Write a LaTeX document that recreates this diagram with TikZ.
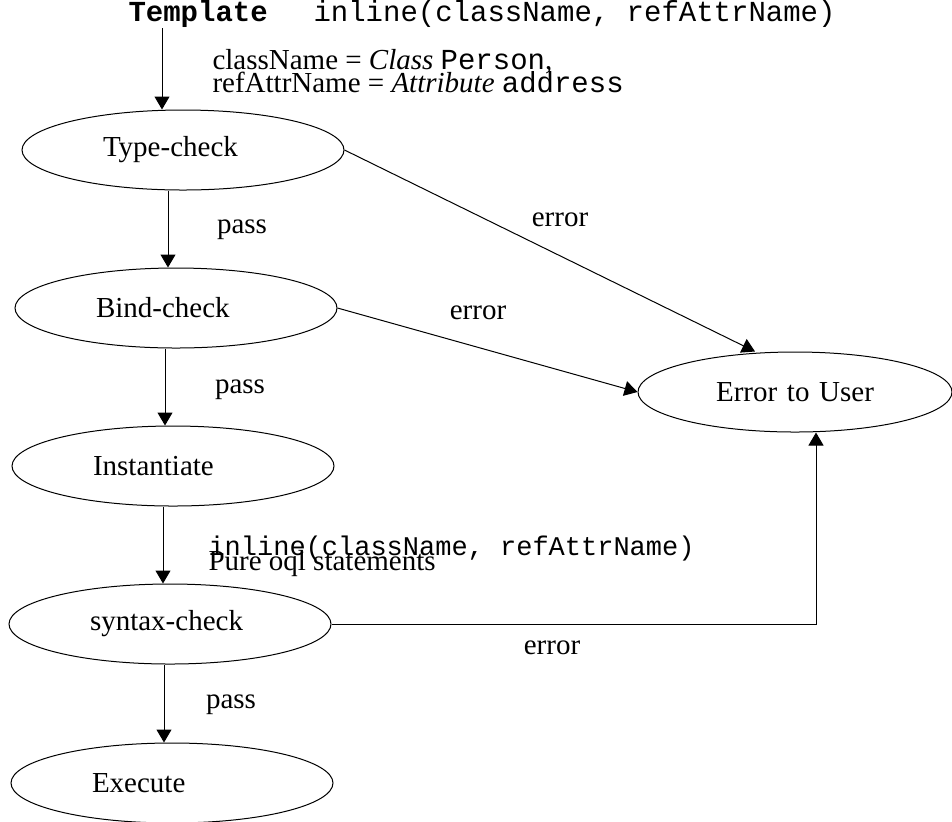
\documentclass[tikz,border=0pt]{standalone}
\usepackage{fontspec}
\setmainfont{Liberation Serif}
\setmonofont{Liberation Mono}
\usetikzlibrary{shapes.geometric,arrows.meta}

\begin{document}
\begin{tikzpicture}[x=0.5pt,y=-0.5pt,line width=0.5pt,
  font=\fontsize{14.5}{17}\selectfont,
  stage/.style={ellipse, draw, minimum width=161pt, minimum height=40pt, inner sep=0pt, text width=80pt, align=left},
  flow/.style={-{Triangle[length=6.5pt,width=7.5pt]}},
  note/.style={inner sep=0pt, anchor=base west}]
\path[use as bounding box, clip] (0,0) rectangle (952,821);

\node[note] at (128,21) (tmpl) {\textbf{\texttt{Template}}};
\node[note] at (313,21) (call) {\texttt{inline(className, refAttrName)}};
\node[note] at (212,69) (bindA) {className = \textit{Class} \texttt{Person},};
\node[note] at (212,92) (bindB) {refAttrName = \textit{Attribute} \texttt{address}};
\coordinate (tmplfoot) at (162,28);

\node[stage] at (183,150) (typeck) {Type-check};
\node[stage] at (176,308) (bindck) {Bind-check};
\node[stage] at (173,466) (inst) {Instantiate};
\node[stage] at (170,624) (synck) {syntax-check};
\node[stage] at (172,783) (exec) {Execute};
\node[stage, minimum width=157pt, align=center] at (795,392) (err) {Error to User};

\node at (242,230) (passA) {pass};
\node at (240,390) (passB) {pass};
\node at (231,705) (passC) {pass};
\node at (560,220) (errA) {error};
\node at (478,313) (errB) {error};
\node at (552,648) (errC) {error};
\node[note] at (208,555) (inl) {\fontsize{13.5}{16}\selectfont\texttt{inline(className, refAttrName)}};
\node[note] at (208,570) (pure) {Pure oql statements};

\draw[flow] (tmplfoot) -- (tmplfoot |- typeck.north);
\draw[flow] ([xshift=-7.5pt]typeck.south) -- ([xshift=-7.5pt]typeck.south |- bindck.north);
\draw[flow] ([xshift=-5.5pt]bindck.south) -- ([xshift=-5.5pt]bindck.south |- inst.north);
\draw[flow] ([xshift=-5pt]inst.south) -- ([xshift=-5pt]inst.south |- synck.north);
\draw[flow] ([xshift=-3pt]synck.south) -- ([xshift=-3pt]synck.south |- exec.north);
\draw[flow] (typeck.east) -- ([xshift=-20pt]err.north);
\draw[flow] (bindck.east) -- (err.west);
\draw[flow] (synck.east) -| ([xshift=10.5pt]err.south);

\end{tikzpicture}
\end{document}
